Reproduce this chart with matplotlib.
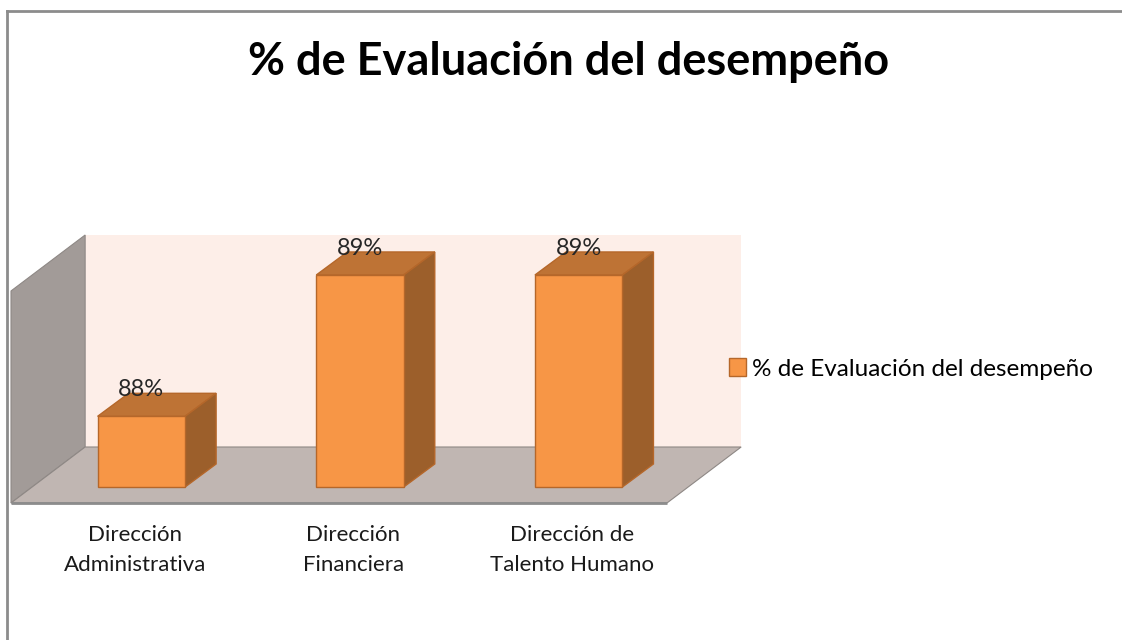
import matplotlib.pyplot as plt
from matplotlib.patches import Polygon, Rectangle
from matplotlib.lines import Line2D

plt.rcParams["font.family"] = ["Lato", "DejaVu Sans"]

categories = ["Dirección\nAdministrativa", "Dirección\nFinanciera", "Dirección de\nTalento Humano"]
values = [88, 89, 89]
labels = ["88%", "89%", "89%"]
series_name = "% de Evaluación del desempeño"
title = "% de Evaluación del desempeño"

ymin, ymax = 87.5, 89.0
bar_w = 0.4
# depth offsets in data units (bar depth, back wall plane, floor front edge)
bar_dx, bar_dy = 0.142, 0.163
back_dx, back_dy = 0.243, 0.283
front_dx, front_dy = -0.096, -0.113

front_c = "#F79646"
top_c = "#BE7335"
side_c = "#9C5F2B"
edge_c = "#B5672A"

fig = plt.figure(figsize=(11.22, 6.4), dpi=100)
ax = fig.add_axes([32 / 1122, 153 / 640, 656 / 1122, 212 / 640])
ax.set_xlim(-0.5, 2.5)
ax.set_ylim(ymin, ymax)
ax.axis("off")

x0, x1 = -0.5, 2.5
# back wall
ax.add_patch(Rectangle((x0 + back_dx, ymin + back_dy), x1 - x0, ymax - ymin,
                       facecolor="#FDEEE8", edgecolor="none", clip_on=False, zorder=0))
# side wall
ax.add_patch(Polygon([(x0 + front_dx, ymin + front_dy), (x0 + back_dx, ymin + back_dy),
                      (x0 + back_dx, ymax + back_dy), (x0 + front_dx, ymax + front_dy)],
                     facecolor="#A29B98", edgecolor="#8E8885", lw=0.8, clip_on=False, zorder=1))
# floor
ax.add_patch(Polygon([(x0 + front_dx, ymin + front_dy), (x1 + front_dx, ymin + front_dy),
                      (x1 + back_dx, ymin + back_dy), (x0 + back_dx, ymin + back_dy)],
                     facecolor="#C0B6B2", edgecolor="#8E8885", lw=0.8, clip_on=False, zorder=1))
ax.plot([x0 + front_dx, x1 + front_dx], [ymin + front_dy, ymin + front_dy],
        color="#8C8C8C", lw=2, clip_on=False, zorder=2, solid_capstyle="butt")

xs = list(range(len(values)))
heights = [v - ymin for v in values]
bars = ax.bar(xs, heights, width=bar_w, bottom=ymin, color=front_c, edgecolor=edge_c,
              linewidth=1, label=series_name, zorder=5, clip_on=False)

for x, v, lab in zip(xs, values, labels):
    l, r = x - bar_w / 2, x + bar_w / 2
    ax.add_patch(Polygon([(l, v), (r, v), (r + bar_dx, v + bar_dy), (l + bar_dx, v + bar_dy)],
                         facecolor=top_c, edgecolor=edge_c, lw=1, clip_on=False, zorder=4))
    ax.add_patch(Polygon([(r, ymin), (r + bar_dx, ymin + bar_dy), (r + bar_dx, v + bar_dy), (r, v)],
                         facecolor=side_c, edgecolor=edge_c, lw=1, clip_on=False, zorder=4))
    ax.text(x, v + bar_dy + 0.025, lab, ha="center", va="center", fontsize=17,
            color="#262626", zorder=6, clip_on=False)

for x, cat in zip(xs, categories):
    ax.text(x - 0.03, ymin - 0.27, cat, ha="center", va="top", fontsize=16,
            color="#1A1A1A", linespacing=1.6, clip_on=False)

fig.text(0.507, 1 - 62 / 640, title, ha="center", va="center", fontsize=32.5,
         fontweight="bold", color="black")

ax.legend(handles=[bars], labels=[series_name], loc="center left",
          bbox_to_anchor=(729 / 1122, 1 - 369 / 640), bbox_transform=fig.transFigure,
          frameon=False, fontsize=17.5, handlelength=0.7, handleheight=0.7,
          handletextpad=0.25, borderpad=0, borderaxespad=0)

fig.add_artist(Line2D([7 / 1122, 1], [1 - 11 / 640, 1 - 11 / 640], color="#8C8C8C", lw=2))
fig.add_artist(Line2D([7 / 1122, 7 / 1122], [0, 1 - 11 / 640], color="#8C8C8C", lw=2))

fig.savefig("out.png", dpi=100, facecolor="white")
